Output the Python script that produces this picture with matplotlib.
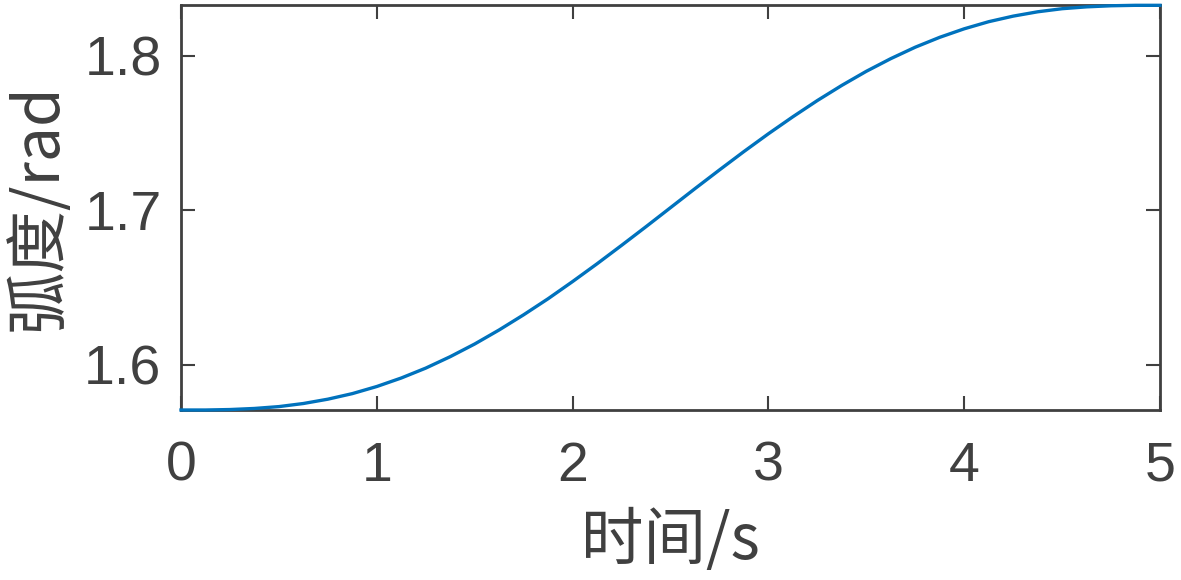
import matplotlib
matplotlib.use("Agg")
import matplotlib.pyplot as plt

t = [0.0, 0.125, 0.25, 0.375, 0.5, 0.625, 0.75, 0.875, 1.0, 1.125, 1.25, 1.375,
     1.5, 1.625, 1.75, 1.875, 2.0, 2.125, 2.25, 2.375, 2.5, 2.625, 2.75, 2.875,
     3.0, 3.125, 3.25, 3.375, 3.5, 3.625, 3.75, 3.875, 4.0, 4.125, 4.25, 4.375,
     4.5, 4.625, 4.75, 4.875, 5.0]
angle = [1.5708, 1.5708, 1.5711, 1.5718, 1.5730, 1.5750, 1.5778, 1.5814, 1.5860,
         1.5915, 1.5979, 1.6053, 1.6135, 1.6226, 1.6324, 1.6428, 1.6539, 1.6654,
         1.6773, 1.6894, 1.7017, 1.7140, 1.7261, 1.7380, 1.7495, 1.7605, 1.7710,
         1.7808, 1.7899, 1.7981, 1.8055, 1.8119, 1.8174, 1.8220, 1.8256, 1.8284,
         1.8304, 1.8316, 1.8323, 1.8326, 1.8326]
xticks = [0, 1, 2, 3, 4, 5]
yticks = [1.6, 1.7, 1.8]
ytick_labels = ["1.6", "1.7", "1.8"]

plt.rcParams['font.family'] = ['Liberation Sans', 'Noto Sans CJK SC', 'DejaVu Sans']
txt = '#404040'

fig = plt.figure(figsize=(11.81, 5.80), dpi=100)
ax = fig.add_axes([181/1181, 1 - 410/580, (1160 - 181)/1181, (410 - 5)/580])
ax.plot(t, angle, color='#0072BD', lw=2.4, clip_on=False, zorder=3)
ax.set_xlim(0, 5)
ax.set_ylim(1.5708, 1.8328)
ax.set_xticks(xticks)
ax.set_yticks(yticks)
ax.set_yticklabels(ytick_labels)
for s in ax.spines.values():
    s.set_color(txt)
    s.set_linewidth(2)
ax.tick_params(axis='both', direction='in', length=10, width=1.5, color=txt,
               labelcolor=txt, labelsize=40, top=True, right=True)
ax.tick_params(axis='x', pad=22)
ax.tick_params(axis='y', pad=14)
ax.set_xlabel('时间/s', fontsize=45, color=txt, family=['Noto Sans CJK SC', 'Liberation Sans'], labelpad=12)
ax.set_ylabel('弧度/rad', fontsize=45, color=txt, family=['Noto Sans CJK SC', 'Liberation Sans'], labelpad=10)
fig.savefig('out.png', dpi=100)
